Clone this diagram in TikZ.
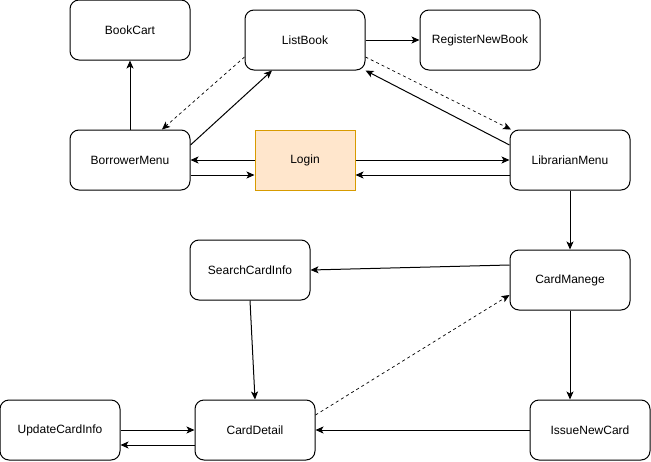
\documentclass[tikz,border=0pt]{standalone}
\usepackage{fontspec}
\setmainfont{Liberation Sans}
\usetikzlibrary{arrows.meta}
\begin{document}
\begin{tikzpicture}[x=1pt,y=-1pt,
  box/.style={draw=black,line width=1pt,rounded corners=9pt,minimum width=120pt,minimum height=60pt,inner sep=0pt,font=\fontsize{12pt}{14pt}\selectfont,fill=white},
  loginbox/.style={draw={rgb,255:red,215;green,155;blue,0},fill={rgb,255:red,255;green,230;blue,204},line width=1pt,minimum width=100pt,minimum height=60pt,inner sep=0pt,font=\fontsize{12pt}{14pt}\selectfont},
  conn/.style={line width=1pt,-{Stealth[length=8pt,width=7pt,inset=2pt]}},
  dconn/.style={conn,dashed,dash pattern=on 3pt off 3pt,line width=0.7pt}]
\useasboundingbox (0,0) rectangle (651,461);
\node[box] (bc) at (130,30) {BookCart};
\node[box] (lb) at (305,40) {ListBook};
\node[box] (rnb) at (480,40) {RegisterNewBook};
\node[box] (bm) at (130,160) {BorrowerMenu};
\node[loginbox] (login) at (305,160) {Login};
\node[box] (lm) at (570,160) {LibrarianMenu};
\node[box] (sci) at (250,270) {SearchCardInfo};
\node[box] (cm) at (570,280) {CardManege};
\node[box] (uci) at (60,430) {UpdateCardInfo};
\node[box] (cd) at (255,430) {CardDetail};
\node[box] (inc) at (590,430) {IssueNewCard};

\draw[conn] (bm.north) -- (bc.south);
\draw[conn] (lb.east) -- (rnb.west);
\draw[dconn] ([yshift=-17pt]lb.west) -- ([xshift=32pt]bm.north);
\draw[conn] ([yshift=15pt]bm.east) -- ([xshift=-33pt]lb.south);
\draw[dconn] ([yshift=-17pt]lb.east) -- ([xshift=-59pt]lm.north);
\draw[conn] ([yshift=15pt]lm.west) -- (lb.south east);
\draw[conn] (login.west) -- (bm.east);
\draw[conn] ([yshift=-15pt]bm.east) -- ([yshift=-15pt]login.west);
\draw[conn] (login.east) -- (lm.west);
\draw[conn] ([yshift=-15pt]lm.west) -- ([yshift=-15pt]login.east);
\draw[conn] (lm.south) -- (cm.north);
\draw[conn] ([yshift=15pt]cm.west) -- (sci.east);
\draw[conn] (sci.south) -- (cd.north);
\draw[conn] (cm.south) -- ([xshift=-20pt]inc.north);
\draw[conn] (inc.west) -- (cd.east);
\draw[dconn] ([yshift=15pt]cd.east) -- ([yshift=-15pt]cm.west);
\draw[conn] (uci.east) -- (cd.west);
\draw[conn] ([yshift=-15pt]cd.west) -- ([yshift=-15pt]uci.east);
\end{tikzpicture}
\end{document}
